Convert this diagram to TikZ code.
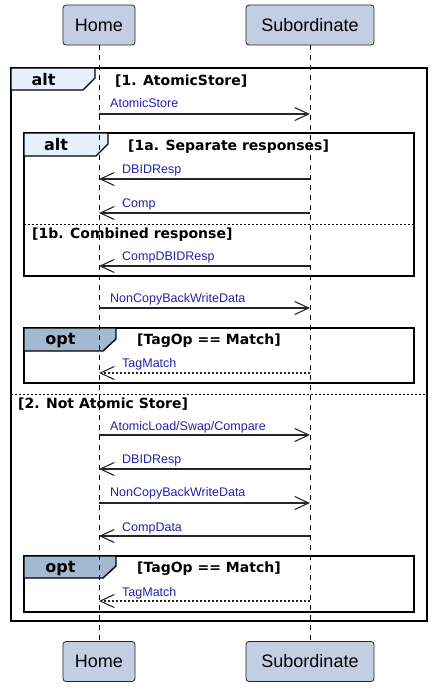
\documentclass[tikz,border=0pt]{standalone}
\usepackage{fontspec}
\setmainfont{Liberation Sans}
\newfontfamily\framefont{DejaVu Sans}
\usetikzlibrary{arrows.meta}
\definecolor{partfill}{RGB}{194,207,226}
\definecolor{altfill}{RGB}{230,241,253}
\definecolor{optfill}{RGB}{163,184,209}
\definecolor{msgblue}{RGB}{34,34,170}
\begin{document}
\begin{tikzpicture}[x=1pt,y=-1pt,
partbox/.style={rectangle, rounded corners=3pt, draw=black!85, fill=partfill, line width=0.8pt, minimum height=40pt, font=\fontsize{18}{20}\selectfont},
lifeline/.style={draw=black, line width=0.9pt, dash pattern=on 5pt off 5pt},
msg/.style={draw=black!85, line width=1.1pt, -{Straight Barb[length=14pt,width=13pt,line width=1.1pt]}},
reply/.style={msg, dash pattern=on 2pt off 2pt},
msglabel/.style={anchor=base west, text=msgblue, inner sep=0pt, font=\fontsize{12.5}{14}\selectfont},
guard/.style={anchor=base west, inner sep=0pt, font=\framefont\bfseries\fontsize{14}{16}\selectfont},
tablabel/.style={anchor=base, inner sep=0pt, font=\framefont\bfseries\fontsize{16}{18}\selectfont},
frame/.style={draw=black, line width=1.4pt},
separator/.style={draw=black, line width=1pt, dash pattern=on 2pt off 2pt},
]
\useasboundingbox (0,0) rectangle (437,694);

% participants
\node[partbox, minimum width=72pt]  (home)  at (99,25)    {Home};
\node[partbox, minimum width=128pt] (sub)   at (310,25)   {Subordinate};
\node[partbox, minimum width=72pt]  (home2) at (99,661.5) {Home};
\node[partbox, minimum width=128pt] (sub2)  at (310,661.5){Subordinate};

% outer alt frame
\draw[frame, line width=1.7pt] (11,68) rectangle (427,621);
\filldraw[frame, fill=altfill] (11,68) -- (95,68) -- (95,78) -- (83,90) -- (11,90) -- cycle;
\node[tablabel] (altA) at (43.5,85.8) {alt};
\node[guard] (atomic) at (115,85) {[1. AtomicStore]};
\draw[separator] (11,394) -- (427,394);
\node[guard] (notatomic) at (18,408) {[2. Not Atomic Store]};

% inner alt frame
\draw[frame] (24,133) rectangle (414,276);
\filldraw[frame, fill=altfill] (24,133) -- (108,133) -- (108,144) -- (96,156) -- (24,156) -- cycle;
\node[tablabel] (altB) at (56,150.8) {alt};
\node[guard] (separate) at (128,150) {[1a. Separate responses]};
\draw[separator] (24,224) -- (414,224);
\node[guard] (combined) at (32,238) {[1b. Combined response]};

% opt frames
\draw[frame] (24,328) rectangle (414,383);
\filldraw[frame, fill=optfill] (24,328) -- (116,328) -- (116,339) -- (103,351) -- (24,351) -- cycle;
\node[tablabel] (optA) at (60.5,344.8) {opt};
\node[guard] (matchA) at (137,344) {[TagOp == Match]};
\draw[frame] (24,556) rectangle (414,612);
\filldraw[frame, fill=optfill] (24,556) -- (116,556) -- (116,566) -- (103,578) -- (24,578) -- cycle;
\node[tablabel] (optB) at (60.5,572.8) {opt};
\node[guard] (matchB) at (137,572) {[TagOp == Match]};

% lifelines
\draw[lifeline] (home.south) -- (home2.north);
\draw[lifeline] (sub.south) -- (sub2.north);

% messages
\draw[msg] (home |- 0,114) -- (sub |- 0,114);
\node[msglabel] (m1) at (110,107.5) {AtomicStore};
\draw[msg] (sub |- 0,179) -- (home |- 0,179);
\node[msglabel] (m2) at (122,173.5) {DBIDResp};
\draw[msg] (sub |- 0,213) -- (home |- 0,213);
\node[msglabel] (m3) at (122,207.5) {Comp};
\draw[msg] (sub |- 0,266) -- (home |- 0,266);
\node[msglabel] (m4) at (122,260.5) {CompDBIDResp};
\draw[msg] (home |- 0,308) -- (sub |- 0,308);
\node[msglabel] (m5) at (110,302.5) {NonCopyBackWriteData};
\draw[reply] (sub |- 0,373) -- (home |- 0,373);
\node[msglabel] (m6) at (122,367.5) {TagMatch};
\draw[msg] (home |- 0,435) -- (sub |- 0,435);
\node[msglabel] (m7) at (110,430.5) {AtomicLoad/Swap/Compare};
\draw[msg] (sub |- 0,469) -- (home |- 0,469);
\node[msglabel] (m8) at (122,463.5) {DBIDResp};
\draw[msg] (home |- 0,503) -- (sub |- 0,503);
\node[msglabel] (m9) at (110,496.5) {NonCopyBackWriteData};
\draw[msg] (sub |- 0,536) -- (home |- 0,536);
\node[msglabel] (m10) at (122,531.5) {CompData};
\draw[reply] (sub |- 0,601) -- (home |- 0,601);
\node[msglabel] (m11) at (122,596.5) {TagMatch};
\end{tikzpicture}
\end{document}
